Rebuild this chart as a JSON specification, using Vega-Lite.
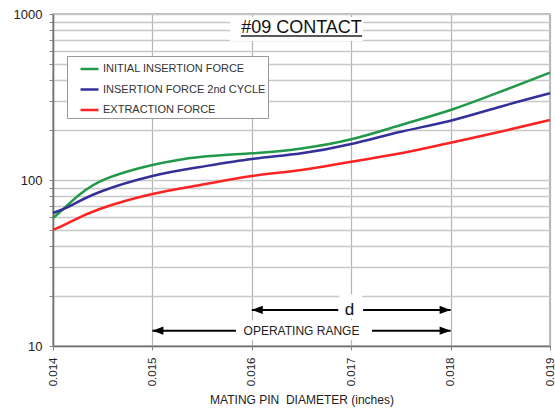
{
  "$schema": "https://vega.github.io/schema/vega-lite/v6.json",
  "width": 497,
  "height": 332,
  "autosize": {"type": "none"},
  "padding": {"left": 53, "top": 14, "right": 5, "bottom": 62},
  "background": "white",
  "config": {"font": "Liberation Sans", "view": {"stroke": "#a8a8a8", "strokeWidth": 1.5}},
  "datasets": {
    "curves": [
      {"x": 0.014, "y": 59, "series": "INITIAL INSERTION FORCE"},
      {"x": 0.01417, "y": 72.7, "series": "INITIAL INSERTION FORCE"},
      {"x": 0.01447, "y": 97.7, "series": "INITIAL INSERTION FORCE"},
      {"x": 0.015, "y": 123, "series": "INITIAL INSERTION FORCE"},
      {"x": 0.01548, "y": 137.6, "series": "INITIAL INSERTION FORCE"},
      {"x": 0.016, "y": 144.8, "series": "INITIAL INSERTION FORCE"},
      {"x": 0.0165, "y": 155, "series": "INITIAL INSERTION FORCE"},
      {"x": 0.017, "y": 175.9, "series": "INITIAL INSERTION FORCE"},
      {"x": 0.0175, "y": 214.5, "series": "INITIAL INSERTION FORCE"},
      {"x": 0.018, "y": 264, "series": "INITIAL INSERTION FORCE"},
      {"x": 0.0185, "y": 340, "series": "INITIAL INSERTION FORCE"},
      {"x": 0.019, "y": 443, "series": "INITIAL INSERTION FORCE"},
      {"x": 0.014, "y": 63.3, "series": "INSERTION FORCE 2nd CYCLE"},
      {"x": 0.01417, "y": 69.7, "series": "INSERTION FORCE 2nd CYCLE"},
      {"x": 0.01447, "y": 84.7, "series": "INSERTION FORCE 2nd CYCLE"},
      {"x": 0.015, "y": 105.7, "series": "INSERTION FORCE 2nd CYCLE"},
      {"x": 0.01548, "y": 119.8, "series": "INSERTION FORCE 2nd CYCLE"},
      {"x": 0.016, "y": 133.8, "series": "INSERTION FORCE 2nd CYCLE"},
      {"x": 0.0165, "y": 145, "series": "INSERTION FORCE 2nd CYCLE"},
      {"x": 0.017, "y": 164.8, "series": "INSERTION FORCE 2nd CYCLE"},
      {"x": 0.0175, "y": 195.4, "series": "INSERTION FORCE 2nd CYCLE"},
      {"x": 0.018, "y": 227.6, "series": "INSERTION FORCE 2nd CYCLE"},
      {"x": 0.0185, "y": 276.5, "series": "INSERTION FORCE 2nd CYCLE"},
      {"x": 0.019, "y": 333, "series": "INSERTION FORCE 2nd CYCLE"},
      {"x": 0.014, "y": 50, "series": "EXTRACTION FORCE"},
      {"x": 0.01417, "y": 55.8, "series": "EXTRACTION FORCE"},
      {"x": 0.01447, "y": 66.9, "series": "EXTRACTION FORCE"},
      {"x": 0.015, "y": 82.4, "series": "EXTRACTION FORCE"},
      {"x": 0.01548, "y": 93.3, "series": "EXTRACTION FORCE"},
      {"x": 0.016, "y": 105.7, "series": "EXTRACTION FORCE"},
      {"x": 0.0165, "y": 114.8, "series": "EXTRACTION FORCE"},
      {"x": 0.017, "y": 128.9, "series": "EXTRACTION FORCE"},
      {"x": 0.0175, "y": 144.8, "series": "EXTRACTION FORCE"},
      {"x": 0.018, "y": 167.8, "series": "EXTRACTION FORCE"},
      {"x": 0.0185, "y": 195.4, "series": "EXTRACTION FORCE"},
      {"x": 0.019, "y": 229.8, "series": "EXTRACTION FORCE"}
    ],
    "boxes": [
      {"x": 0.01578, "x2": 0.01712, "y": 688, "y2": 960},
      {"x": 0.01688, "x2": 0.01711, "y": 14.6, "y2": 20.5},
      {"x": 0.01586, "x2": 0.01718, "y": 10.87, "y2": 14.3}
    ],
    "segments": [
      {"x": 0.015, "x2": 0.01584, "y": 12.36},
      {"x": 0.01721, "x2": 0.018, "y": 12.36},
      {"x": 0.016, "x2": 0.01687, "y": 16.5},
      {"x": 0.01712, "x2": 0.018, "y": 16.5}
    ],
    "underline": [{"x": 0.01589, "x2": 0.01711, "y": 736}],
    "heads": [
      {"x": 0.015, "y": 12.36, "dir": "left"},
      {"x": 0.018, "y": 12.36, "dir": "right"},
      {"x": 0.016, "y": 16.5, "dir": "left"},
      {"x": 0.018, "y": 16.5, "dir": "right"}
    ],
    "titletext": [{"x": 0.0165, "y": 826, "text": "#09 CONTACT"}],
    "dtext": [{"x": 0.016983, "y": 16.5, "text": "d"}],
    "rangetext": [{"x": 0.0165, "y": 12.25, "text": "OPERATING RANGE"}]
  },
  "encoding": {
    "x": {
      "field": "x",
      "type": "quantitative",
      "scale": {"domain": [0.014, 0.019], "nice": false, "zero": false},
      "axis": {
        "values": [0.014, 0.015, 0.016, 0.017, 0.018, 0.019],
        "format": ".3f",
        "labelAngle": 270,
        "labelFontSize": 11.5,
        "labelColor": "#222",
        "labelPadding": 7,
        "tickSize": 4,
        "tickColor": "#888",
        "domainColor": "#707070",
        "domainWidth": 1.5,
        "grid": true,
        "gridColor": "#b4b4b4",
        "gridWidth": 1.2,
        "title": "MATING PIN\u00a0\u00a0DIAMETER (inches)",
        "titleFontSize": 12,
        "titleFontWeight": "normal",
        "titleColor": "#222",
        "titlePadding": 9
      }
    },
    "y": {
      "field": "y",
      "type": "quantitative",
      "scale": {"type": "log", "domain": [10, 1000], "nice": false},
      "axis": {
        "values": [10, 20, 30, 40, 50, 60, 70, 80, 90, 100, 200, 300, 400, 500, 600, 700, 800, 900, 1000],
        "labelExpr": "datum.value == 10 || datum.value == 100 || datum.value == 1000 ? format(datum.value, 'd') : ''",
        "labelFontSize": 13,
        "labelColor": "#222",
        "labelPadding": 7,
        "tickSize": 4,
        "tickColor": "#888",
        "domainColor": "#707070",
        "domainWidth": 1.5,
        "grid": true,
        "gridColor": "#c8c8c8",
        "gridWidth": 1.5,
        "title": null
      }
    }
  },
  "layer": [
    {
      "data": {"name": "curves"},
      "mark": {"type": "line", "interpolate": "natural", "strokeWidth": 2.5},
      "encoding": {
        "color": {
          "field": "series",
          "type": "nominal",
          "sort": ["INITIAL INSERTION FORCE", "INSERTION FORCE 2nd CYCLE", "EXTRACTION FORCE"],
          "scale": {
            "domain": ["INITIAL INSERTION FORCE", "INSERTION FORCE 2nd CYCLE", "EXTRACTION FORCE"],
            "range": ["#22994a", "#33309a", "#ff2222"]
          },
          "legend": {
            "title": null,
            "orient": "none",
            "legendX": 14,
            "legendY": 42,
            "fillColor": "white",
            "strokeColor": "#999",
            "padding": 2.5,
            "symbolType": "stroke",
            "symbolSize": 324,
            "symbolStrokeWidth": 2.5,
            "symbolOffset": 9.5,
            "labelOffset": 3,
            "labelFontSize": 11,
            "labelColor": "#333",
            "labelLimit": 300,
            "rowPadding": 4.5
          }
        }
      }
    },
    {
      "data": {"name": "boxes"},
      "mark": {"type": "rect", "fill": "white"},
      "encoding": {"x2": {"field": "x2"}, "y2": {"field": "y2"}}
    },
    {
      "data": {"name": "segments"},
      "mark": {"type": "rule", "color": "black", "strokeWidth": 2},
      "encoding": {"x2": {"field": "x2"}}
    },
    {
      "data": {"name": "underline"},
      "mark": {"type": "rule", "color": "#222", "strokeWidth": 1.5},
      "encoding": {"x2": {"field": "x2"}}
    },
    {
      "data": {"name": "heads"},
      "mark": {"type": "point", "filled": true, "color": "black", "opacity": 1, "size": 121},
      "encoding": {
        "shape": {
          "field": "dir",
          "type": "nominal",
          "scale": {"domain": ["left", "right"], "range": ["M0,0L2,-0.75L2,0.75Z", "M0,0L-2,-0.75L-2,0.75Z"]},
          "legend": null
        }
      }
    },
    {
      "data": {"name": "titletext"},
      "mark": {"type": "text", "fontSize": 18, "color": "#111", "baseline": "middle", "align": "center"},
      "encoding": {"text": {"field": "text"}}
    },
    {
      "data": {"name": "dtext"},
      "mark": {"type": "text", "fontSize": 17, "color": "#111", "baseline": "middle", "align": "center"},
      "encoding": {"text": {"field": "text"}}
    },
    {
      "data": {"name": "rangetext"},
      "mark": {"type": "text", "fontSize": 12, "color": "#222", "baseline": "middle", "align": "center"},
      "encoding": {"text": {"field": "text"}}
    }
  ]
}
